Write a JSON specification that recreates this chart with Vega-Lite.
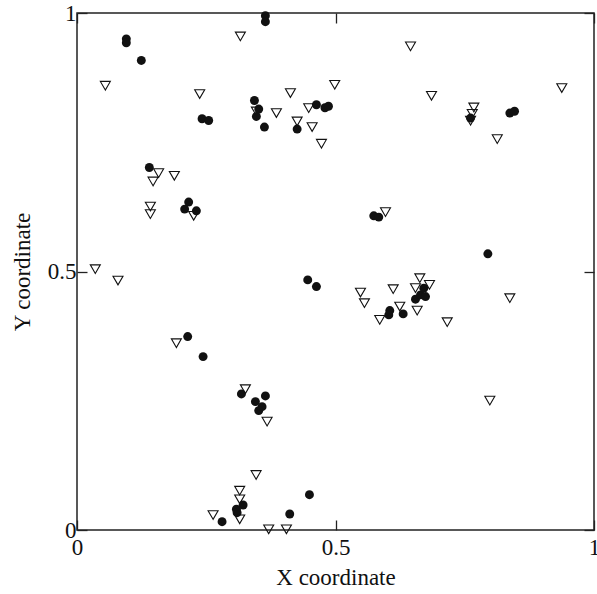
{
  "$schema": "https://vega.github.io/schema/vega-lite/v6.json",
  "width": 517,
  "height": 517,
  "autosize": "none",
  "padding": {"left": 77, "top": 13, "right": 3, "bottom": 64},
  "background": "white",
  "config": {
    "view": {"stroke": "#222", "strokeWidth": 1.5},
    "font": "Liberation Serif"
  },
  "data": {
    "values": [
      {"x": 0.0954, "y": 0.950, "g": "filled"},
      {"x": 0.0954, "y": 0.9425, "g": "filled"},
      {"x": 0.1244, "y": 0.9083, "g": "filled"},
      {"x": 0.3644, "y": 0.9948, "g": "filled"},
      {"x": 0.3644, "y": 0.9832, "g": "filled"},
      {"x": 0.3432, "y": 0.8308, "g": "filled"},
      {"x": 0.3515, "y": 0.8142, "g": "filled"},
      {"x": 0.3470, "y": 0.7999, "g": "filled"},
      {"x": 0.3625, "y": 0.7794, "g": "filled"},
      {"x": 0.2419, "y": 0.7954, "g": "filled"},
      {"x": 0.2547, "y": 0.7921, "g": "filled"},
      {"x": 0.4631, "y": 0.8225, "g": "filled"},
      {"x": 0.4796, "y": 0.8167, "g": "filled"},
      {"x": 0.4864, "y": 0.8196, "g": "filled"},
      {"x": 0.4258, "y": 0.7755, "g": "filled"},
      {"x": 0.7612, "y": 0.7968, "g": "filled"},
      {"x": 0.8372, "y": 0.8065, "g": "filled"},
      {"x": 0.8463, "y": 0.8099, "g": "filled"},
      {"x": 0.1399, "y": 0.7012, "g": "filled"},
      {"x": 0.2160, "y": 0.6343, "g": "filled"},
      {"x": 0.2082, "y": 0.6207, "g": "filled"},
      {"x": 0.2309, "y": 0.6174, "g": "filled"},
      {"x": 0.4463, "y": 0.4838, "g": "filled"},
      {"x": 0.4631, "y": 0.4709, "g": "filled"},
      {"x": 0.5740, "y": 0.6077, "g": "filled"},
      {"x": 0.5837, "y": 0.6052, "g": "filled"},
      {"x": 0.7947, "y": 0.5342, "g": "filled"},
      {"x": 0.6050, "y": 0.4244, "g": "filled"},
      {"x": 0.6031, "y": 0.4161, "g": "filled"},
      {"x": 0.6309, "y": 0.4180, "g": "filled"},
      {"x": 0.6547, "y": 0.4465, "g": "filled"},
      {"x": 0.6644, "y": 0.4548, "g": "filled"},
      {"x": 0.6708, "y": 0.4678, "g": "filled"},
      {"x": 0.6741, "y": 0.4515, "g": "filled"},
      {"x": 0.2141, "y": 0.3741, "g": "filled"},
      {"x": 0.2439, "y": 0.3354, "g": "filled"},
      {"x": 0.3180, "y": 0.2632, "g": "filled"},
      {"x": 0.3644, "y": 0.2593, "g": "filled"},
      {"x": 0.3451, "y": 0.2483, "g": "filled"},
      {"x": 0.3580, "y": 0.2386, "g": "filled"},
      {"x": 0.3515, "y": 0.2309, "g": "filled"},
      {"x": 0.3213, "y": 0.0484, "g": "filled"},
      {"x": 0.3083, "y": 0.0401, "g": "filled"},
      {"x": 0.3097, "y": 0.0335, "g": "filled"},
      {"x": 0.2806, "y": 0.0161, "g": "filled"},
      {"x": 0.4115, "y": 0.0310, "g": "filled"},
      {"x": 0.4496, "y": 0.0683, "g": "filled"},
      {"x": 0.3160, "y": 0.9547, "g": "open"},
      {"x": 0.0548, "y": 0.8593, "g": "open"},
      {"x": 0.2373, "y": 0.8432, "g": "open"},
      {"x": 0.4128, "y": 0.8452, "g": "open"},
      {"x": 0.4985, "y": 0.8612, "g": "open"},
      {"x": 0.3470, "y": 0.8096, "g": "open"},
      {"x": 0.3857, "y": 0.8065, "g": "open"},
      {"x": 0.4482, "y": 0.8161, "g": "open"},
      {"x": 0.4258, "y": 0.7902, "g": "open"},
      {"x": 0.4548, "y": 0.7794, "g": "open"},
      {"x": 0.4728, "y": 0.7471, "g": "open"},
      {"x": 0.1579, "y": 0.6903, "g": "open"},
      {"x": 0.1471, "y": 0.6741, "g": "open"},
      {"x": 0.1883, "y": 0.6851, "g": "open"},
      {"x": 0.1419, "y": 0.6257, "g": "open"},
      {"x": 0.1419, "y": 0.6110, "g": "open"},
      {"x": 0.2257, "y": 0.6077, "g": "open"},
      {"x": 0.6451, "y": 0.9354, "g": "open"},
      {"x": 0.6857, "y": 0.8399, "g": "open"},
      {"x": 0.9377, "y": 0.8548, "g": "open"},
      {"x": 0.7676, "y": 0.8173, "g": "open"},
      {"x": 0.7645, "y": 0.8051, "g": "open"},
      {"x": 0.7612, "y": 0.7916, "g": "open"},
      {"x": 0.8129, "y": 0.7561, "g": "open"},
      {"x": 0.5967, "y": 0.6149, "g": "open"},
      {"x": 0.0354, "y": 0.5045, "g": "open"},
      {"x": 0.0793, "y": 0.4825, "g": "open"},
      {"x": 0.8372, "y": 0.4484, "g": "open"},
      {"x": 0.5483, "y": 0.4593, "g": "open"},
      {"x": 0.5560, "y": 0.4387, "g": "open"},
      {"x": 0.6116, "y": 0.4658, "g": "open"},
      {"x": 0.5856, "y": 0.4064, "g": "open"},
      {"x": 0.6243, "y": 0.4322, "g": "open"},
      {"x": 0.6580, "y": 0.4244, "g": "open"},
      {"x": 0.6631, "y": 0.4871, "g": "open"},
      {"x": 0.6547, "y": 0.4678, "g": "open"},
      {"x": 0.6818, "y": 0.4742, "g": "open"},
      {"x": 0.7161, "y": 0.4020, "g": "open"},
      {"x": 0.1922, "y": 0.3613, "g": "open"},
      {"x": 0.7985, "y": 0.2502, "g": "open"},
      {"x": 0.3257, "y": 0.2723, "g": "open"},
      {"x": 0.3677, "y": 0.2096, "g": "open"},
      {"x": 0.3464, "y": 0.1064, "g": "open"},
      {"x": 0.3147, "y": 0.0761, "g": "open"},
      {"x": 0.3147, "y": 0.0594, "g": "open"},
      {"x": 0.3147, "y": 0.0207, "g": "open"},
      {"x": 0.2632, "y": 0.0290, "g": "open"},
      {"x": 0.3708, "y": 0.0014, "g": "open"},
      {"x": 0.4051, "y": 0.0014, "g": "open"}
    ]
  },
  "layer": [
    {
      "transform": [{"filter": "datum.g == 'filled'"}],
      "mark": {"type": "point", "shape": "circle", "filled": true, "color": "#111", "size": 80, "opacity": 1, "clip": false},
      "encoding": {
        "x": {
          "field": "x", "type": "quantitative",
          "scale": {"domain": [0, 1], "nice": false, "zero": false},
          "axis": {
            "orient": "bottom", "values": [0, 0.5, 1], "format": "~g",
            "grid": false, "domain": false,
            "tickSize": -10, "tickColor": "#222", "tickWidth": 1.3,
            "labelFont": "Liberation Serif", "labelFontSize": 23, "labelColor": "#111",
            "labelPadding": 16, "labelFlush": false,
            "title": "X coordinate", "titleFont": "Liberation Serif", "titleFontSize": 23,
            "titleFontWeight": "normal", "titleColor": "#111", "titlePadding": 7
          }
        },
        "y": {
          "field": "y", "type": "quantitative",
          "scale": {"domain": [0, 1], "nice": false, "zero": false},
          "axis": {
            "orient": "left", "values": [0, 0.5, 1], "format": "~g",
            "grid": false, "domain": false,
            "tickSize": -10, "tickColor": "#222", "tickWidth": 1.3,
            "labelFont": "Liberation Serif", "labelFontSize": 23, "labelColor": "#111",
            "labelPadding": 11, "labelFlush": false,
            "title": "Y coordinate", "titleFont": "Liberation Serif", "titleFontSize": 23,
            "titleFontWeight": "normal", "titleColor": "#111", "titlePadding": 13
          }
        }
      }
    },
    {
      "transform": [{"filter": "datum.g == 'open'"}],
      "mark": {"type": "point", "shape": "triangle-down", "filled": false, "stroke": "#111", "strokeWidth": 1.1, "fill": "white", "fillOpacity": 0, "size": 100, "opacity": 1, "clip": false},
      "encoding": {
        "x": {
          "field": "x", "type": "quantitative",
          "scale": {"domain": [0, 1], "nice": false, "zero": false},
          "axis": {
            "orient": "top", "values": [0, 0.5, 1], "labels": false, "title": null,
            "grid": false, "domain": false,
            "tickSize": -10, "tickColor": "#222", "tickWidth": 1.3
          }
        },
        "y": {
          "field": "y", "type": "quantitative",
          "scale": {"domain": [0, 1], "nice": false, "zero": false},
          "axis": {
            "orient": "right", "values": [0, 0.5, 1], "labels": false, "title": null,
            "grid": false, "domain": false,
            "tickSize": -10, "tickColor": "#222", "tickWidth": 1.3
          }
        }
      }
    }
  ],
  "resolve": {"axis": {"x": "independent", "y": "independent"}}
}
